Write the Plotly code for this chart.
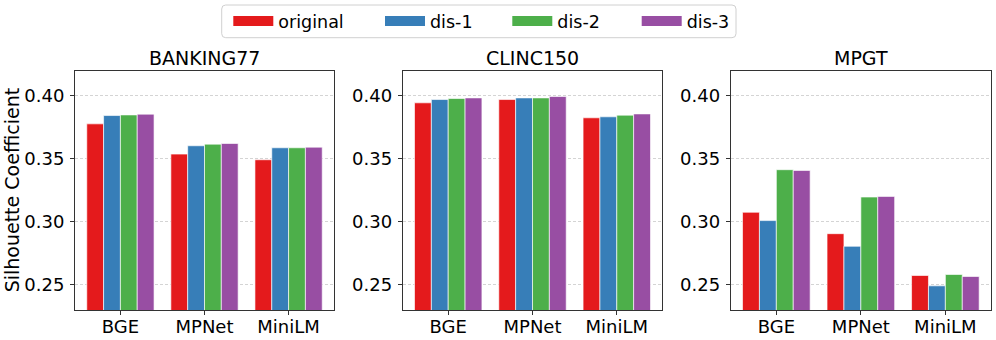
import plotly.graph_objects as go

# ---------------- data ----------------
models = ["BGE", "MPNet", "MiniLM"]
datasets = ["BANKING77", "CLINC150", "MPGT"]
series_names = ["original", "dis-1", "dis-2", "dis-3"]
series_colors = ["#e41a1c", "#377eb8", "#4daf4a", "#984ea3"]

banking_original = [0.3778, 0.3538, 0.3493]
banking_dis1 = [0.3844, 0.3604, 0.3588]
banking_dis2 = [0.3849, 0.3617, 0.3588]
banking_dis3 = [0.3855, 0.3622, 0.3593]

clinc_original = [0.3945, 0.3971, 0.3826]
clinc_dis1 = [0.3971, 0.3984, 0.3834]
clinc_dis2 = [0.3979, 0.3984, 0.3847]
clinc_dis3 = [0.3984, 0.3995, 0.3857]

mpgt_original = [0.3076, 0.2906, 0.2574]
mpgt_dis1 = [0.3010, 0.2806, 0.2492]
mpgt_dis2 = [0.3414, 0.3197, 0.2582]
mpgt_dis3 = [0.3408, 0.3202, 0.2566]

y_ticks = [0.25, 0.30, 0.35, 0.40]
y_tick_labels = ["0.25", "0.30", "0.35", "0.40"]
y_range = [0.23, 0.42]

panel_values = [
    [banking_original, banking_dis1, banking_dis2, banking_dis3],
    [clinc_original, clinc_dis1, clinc_dis2, clinc_dis3],
    [mpgt_original, mpgt_dis1, mpgt_dis2, mpgt_dis3],
]

# ---------------- layout helpers ----------------
W, H = 996, 340
FONT = "DejaVu Sans"
TICK_SIZE = 18
TITLE_SIZE = 19
LEGEND_SIZE = 17.5


def px_x(p):
    return p / W


def px_y(p):
    return 1 - p / H


x_domains = [(75, 334), (402.7, 662.3), (730.7, 991)]
y_dom = [px_y(310), px_y(70.7)]

fig = go.Figure()

for i, vals in enumerate(panel_values):
    xa = "x" if i == 0 else f"x{i+1}"
    ya = "y" if i == 0 else f"y{i+1}"
    for s, (name, color) in enumerate(zip(series_names, series_colors)):
        fig.add_trace(go.Bar(
            x=models, y=vals[s], name=name, xaxis=xa, yaxis=ya,
            marker=dict(color=color, line=dict(color="rgba(255,255,255,0.8)", width=0.8)),
            offsetgroup=str(s), showlegend=False,
        ))

# legend entries (one legend per entry for matplotlib-like spacing)
legend_ids = ["legend", "legend2", "legend3", "legend4"]
legend_x_px = [228.3, 380, 507.3, 636.7]
for name, color, lid in zip(series_names, series_colors, legend_ids):
    fig.add_trace(go.Scatter(
        x=[None], y=[None], mode="lines", name=name,
        line=dict(color=color, width=14), legend=lid, showlegend=True,
        xaxis="x", yaxis="y",
    ))

layout = dict(
    width=W, height=H,
    margin=dict(l=0, r=0, t=0, b=0),
    paper_bgcolor="white", plot_bgcolor="white",
    barmode="group", bargap=0.2, bargroupgap=0.0,
    font=dict(family=FONT, size=TITLE_SIZE, color="black"),
    showlegend=True,
)

for i in range(3):
    sx = "" if i == 0 else str(i + 1)
    layout[f"xaxis{sx}"] = dict(
        domain=[px_x(x_domains[i][0]), px_x(x_domains[i][1])],
        anchor=f"y{sx}", range=[-0.54, 2.54],
        showline=True, mirror=True, linecolor="#333333", linewidth=1,
        ticks="outside", ticklen=4, tickcolor="#333333", tickwidth=1,
        showgrid=False, zeroline=False, automargin=False,
        tickfont=dict(family=FONT, size=TICK_SIZE, color="black"),
        ticklabelstandoff=-4,
        fixedrange=True,
    )
    layout[f"yaxis{sx}"] = dict(
        domain=y_dom, anchor=f"x{sx}", range=y_range,
        tickvals=y_ticks, ticktext=y_tick_labels,
        showline=True, mirror=True, linecolor="#333333", linewidth=1,
        ticks="outside", ticklen=4, tickcolor="#333333", tickwidth=1,
        showgrid=True, gridcolor="#d4d4d4", gridwidth=0.8, griddash="3px,2px",
        zeroline=False, automargin=False,
        tickfont=dict(family=FONT, size=TICK_SIZE, color="black"),
        ticklabelstandoff=2,
        fixedrange=True,
    )

for lid, lx in zip(legend_ids, legend_x_px):
    layout[lid] = dict(
        x=px_x(lx), xanchor="left", y=px_y(21), yanchor="middle",
        orientation="h", bgcolor="rgba(0,0,0,0)", borderwidth=0,
        font=dict(family=FONT, size=LEGEND_SIZE, color="black"),
        itemwidth=40,
    )

fig.update_layout(**layout)

# panel titles
for i, ds in enumerate(datasets):
    cx = (x_domains[i][0] + x_domains[i][1]) / 2
    fig.add_annotation(
        x=px_x(cx), y=y_dom[1], xref="paper", yref="paper",
        text=ds, showarrow=False, xanchor="center", yanchor="bottom",
        font=dict(family=FONT, size=TITLE_SIZE, color="black"),
    )

# y-axis title
fig.add_annotation(
    x=px_x(12), y=(y_dom[0] + y_dom[1]) / 2, xref="paper", yref="paper",
    text="Silhouette Coefficient", showarrow=False, textangle=-90,
    xanchor="center", yanchor="middle",
    font=dict(family=FONT, size=TITLE_SIZE, color="black"),
)

# legend frame (rounded rectangle)
x0, x1 = px_x(221.7), px_x(736)
y0, y1 = px_y(37.7), px_y(5)
rx, ry = 4 / W, 4 / H
path = (f"M {x0+rx},{y1} L {x1-rx},{y1} Q {x1},{y1} {x1},{y1-ry} "
        f"L {x1},{y0+ry} Q {x1},{y0} {x1-rx},{y0} L {x0+rx},{y0} "
        f"Q {x0},{y0} {x0},{y0+ry} L {x0},{y1-ry} Q {x0},{y1} {x0+rx},{y1} Z")
fig.add_shape(type="path", path=path, xref="paper", yref="paper",
              line=dict(color="#d0d0d0", width=1), fillcolor="rgba(255,255,255,0.8)",
              layer="below")

fig.write_html("out.html", post_script="document.body.style.margin='0';",
               config={"displayModeBar": False})
